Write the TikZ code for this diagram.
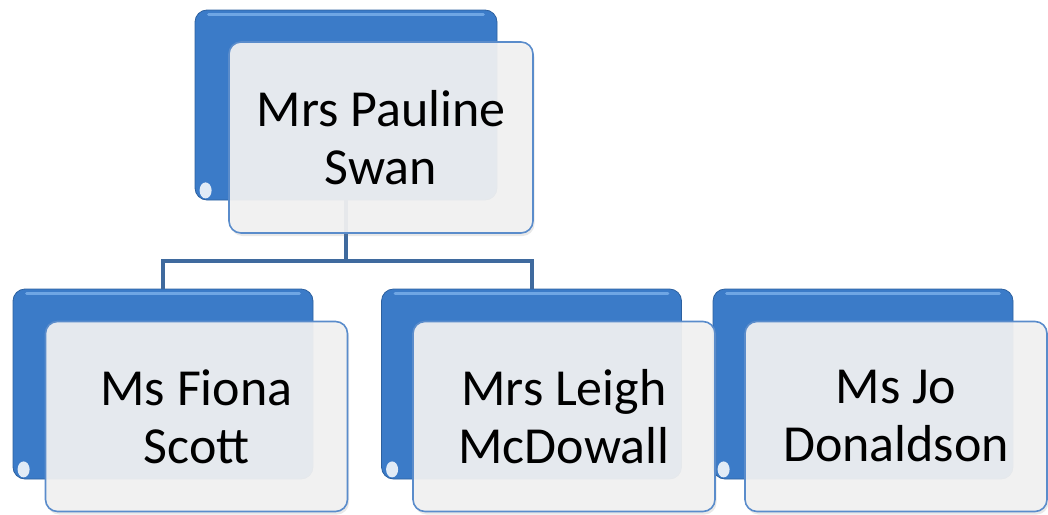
\documentclass[tikz,border=0pt]{standalone}
\usepackage{fontspec}
\setmainfont{Carlito}
\usetikzlibrary{shadows,calc}
\definecolor{boxblueL}{HTML}{7DB1EC}
\definecolor{boxblue}{HTML}{3B7BC8}
\definecolor{boxedgeD}{HTML}{2C609F}
\definecolor{linkblue}{HTML}{3F6A9E}
\definecolor{cardfill}{HTML}{F2F2F2}
\definecolor{cardedge}{HTML}{5A8CCB}
\tikzset{
  backbox/.style={rectangle, rounded corners=12pt, draw=boxedgeD, line width=0.8pt,
    fill=boxblue, minimum width=300pt, minimum height=190pt, inner sep=0pt},
  cardbox/.style={rectangle, rounded corners=12pt, draw=cardedge, line width=1.6pt,
    fill=cardfill, fill opacity=0.93, text opacity=1,
    drop shadow={opacity=0.18, shadow xshift=1.5pt, shadow yshift=-3pt},
    minimum width=302pt, minimum height=190pt, inner sep=0pt, align=center,
    font=\fontsize{52}{58}\selectfont},
  link/.style={draw=linkblue, line width=4pt},
  gloss/.style={fill=white, fill opacity=0.85, draw=none},
  rim/.style={draw=boxblueL, line width=3pt, line cap=round, draw opacity=0.8}
}
\begin{document}
\begin{tikzpicture}[x=1pt, y=-1pt]
\useasboundingbox (0,0) rectangle (1048,514);
% back boxes
\node[backbox, minimum width=302pt] (pb) at (346,105) {};
\node[backbox] (c1b) at (163,384) {};
\node[backbox] (c2b) at (531.5,384) {};
\node[backbox] (c3b) at (863,384) {};
\foreach \n in {pb,c1b,c2b,c3b}{
  \draw[rim] ($(\n.north west)+(14,5)$) -- ($(\n.north east)+(-14,5)$);
  \fill[gloss] ($(\n.south west)+(11,-10)$) ellipse [x radius=6pt, y radius=8pt];
}
% connectors
\coordinate (bus) at (346,261);
\draw[link] (pb.south) -- (bus);
\draw[link] (bus) -| (c1b.north);
\draw[link] (bus) -| (c2b.north);
% front cards
\node[cardbox, minimum width=304pt, minimum height=191pt] (p) at (381,137.5) {Mrs Pauline\\Swan};
\node[cardbox] (c1) at (196.5,416.5) {Ms Fiona\\Scott};
\node[cardbox] (c2) at (564,416.5) {Mrs Leigh\\McDowall};
\node[cardbox] (c3) at (896,416.5) {Ms Jo\\Donaldson};
\end{tikzpicture}
\end{document}
